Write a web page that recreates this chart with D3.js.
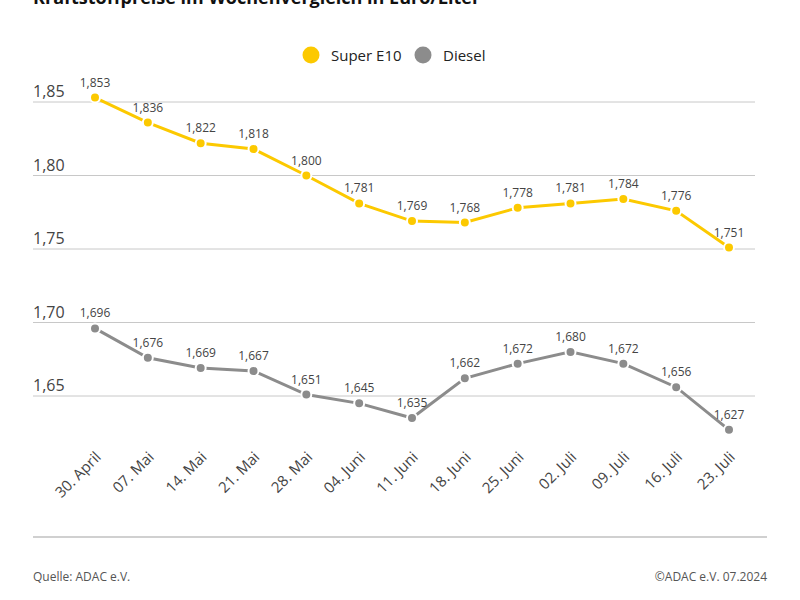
<!DOCTYPE html>
<html>
<head>
<meta charset="utf-8">
<script src="https://cdn.jsdelivr.net/npm/d3@7"></script>
<style>
  body { margin: 0; background: #fff; }
  svg { display: block; font-family: 'Open Sans', sans-serif; }
</style>
</head>
<body>
<div id="chart"></div>
<script>
// Kraftstoffpreise im Wochenvergleich (ADAC)
const dates = ['30. April', '07. Mai', '14. Mai', '21. Mai', '28. Mai', '04. Juni', '11. Juni',
  '18. Juni', '25. Juni', '02. Juli', '09. Juli', '16. Juli', '23. Juli'];
const superE10 = [1.853, 1.836, 1.822, 1.818, 1.800, 1.781, 1.769, 1.768, 1.778, 1.781, 1.784, 1.776, 1.751];
const diesel = [1.696, 1.676, 1.669, 1.667, 1.651, 1.645, 1.635, 1.662, 1.672, 1.680, 1.672, 1.656, 1.627];
const yTicks = [1.65, 1.70, 1.75, 1.80, 1.85];

const series = [
  { name: 'Super E10', values: superE10, color: '#fcc900' },
  { name: 'Diesel', values: diesel, color: '#8c8c8c' }
];

(function() {
  const W = 800, H = 600;
  const left = 33, right = 767, gridRight = 755, bottom = 537;

  const svg = d3.select('#chart').append('svg')
    .attr('width', W).attr('height', H);

  const fmt = v => d3.format('.3f')(v).replace('.', ',');
  const fmtTick = v => d3.format('.2f')(v).replace('.', ',');

  const x = d3.scalePoint().domain(dates).range([95, 729]);
  const y = d3.scaleLinear().domain([1.65, 1.85]).range([396, 102]);

  // title (cut off at the top, as in the original)
  svg.append('text')
    .attr('x', left).attr('y', 4)
    .style('font-size', '18px').style('font-weight', 'bold').style('fill', '#111')
    .text('Kraftstoffpreise im Wochenvergleich in Euro/Liter');

  // legend
  const legend = svg.append('g').attr('transform', 'translate(311, 55)');
  const li = legend.selectAll('g').data(series).enter().append('g')
    .attr('transform', (d, i) => `translate(${i * 112}, 0)`);
  li.append('circle').attr('r', 8.5).attr('fill', d => d.color);
  li.append('text').attr('x', 20).attr('y', 5.5)
    .style('font-size', '15px').style('fill', '#222')
    .text(d => d.name);

  // grid
  const grid = svg.append('g');
  grid.selectAll('line').data(yTicks).enter().append('line')
    .attr('x1', left).attr('x2', gridRight)
    .attr('y1', d => y(d)).attr('y2', d => y(d))
    .attr('stroke', '#c8c8c8').attr('stroke-width', 1);
  grid.selectAll('text').data(yTicks).enter().append('text')
    .attr('x', left).attr('y', d => y(d) - 5)
    .style('font-size', '16px').style('fill', '#444')
    .text(fmtTick);

  // baseline
  svg.append('line')
    .attr('x1', left).attr('x2', right).attr('y1', bottom).attr('y2', bottom)
    .attr('stroke', '#d0d0d0').attr('stroke-width', 2);

  // x labels
  svg.append('g').selectAll('text').data(dates).enter().append('text')
    .attr('transform', d => `translate(${x(d) + 7}, 458) rotate(-45)`)
    .attr('text-anchor', 'end')
    .style('font-size', '15px').style('fill', '#444')
    .text(d => d);

  // lines, points, labels
  const line = d3.line().x((d, i) => x(dates[i])).y(d => y(d));
  series.forEach(s => {
    const g = svg.append('g');
    g.append('path').datum(s.values)
      .attr('d', line).attr('fill', 'none')
      .attr('stroke', s.color).attr('stroke-width', 3);
    g.selectAll('circle').data(s.values).enter().append('circle')
      .attr('cx', (d, i) => x(dates[i])).attr('cy', d => y(d))
      .attr('r', 5).attr('fill', s.color)
      .attr('stroke', '#fff').attr('stroke-width', 2);
    g.selectAll('text').data(s.values).enter().append('text')
      .attr('x', (d, i) => x(dates[i])).attr('y', d => y(d) - 11)
      .attr('text-anchor', 'middle')
      .style('font-size', '12px').style('fill', '#444')
      .text(fmt);
  });

  // footer
  svg.append('text').attr('x', left).attr('y', 581)
    .style('font-size', '12px').style('fill', '#555')
    .text('Quelle: ADAC e.V.');
  svg.append('text').attr('x', right).attr('y', 581).attr('text-anchor', 'end')
    .style('font-size', '12px').style('fill', '#555')
    .text('©ADAC e.V. 07.2024');
})();
</script>
</body>
</html>
